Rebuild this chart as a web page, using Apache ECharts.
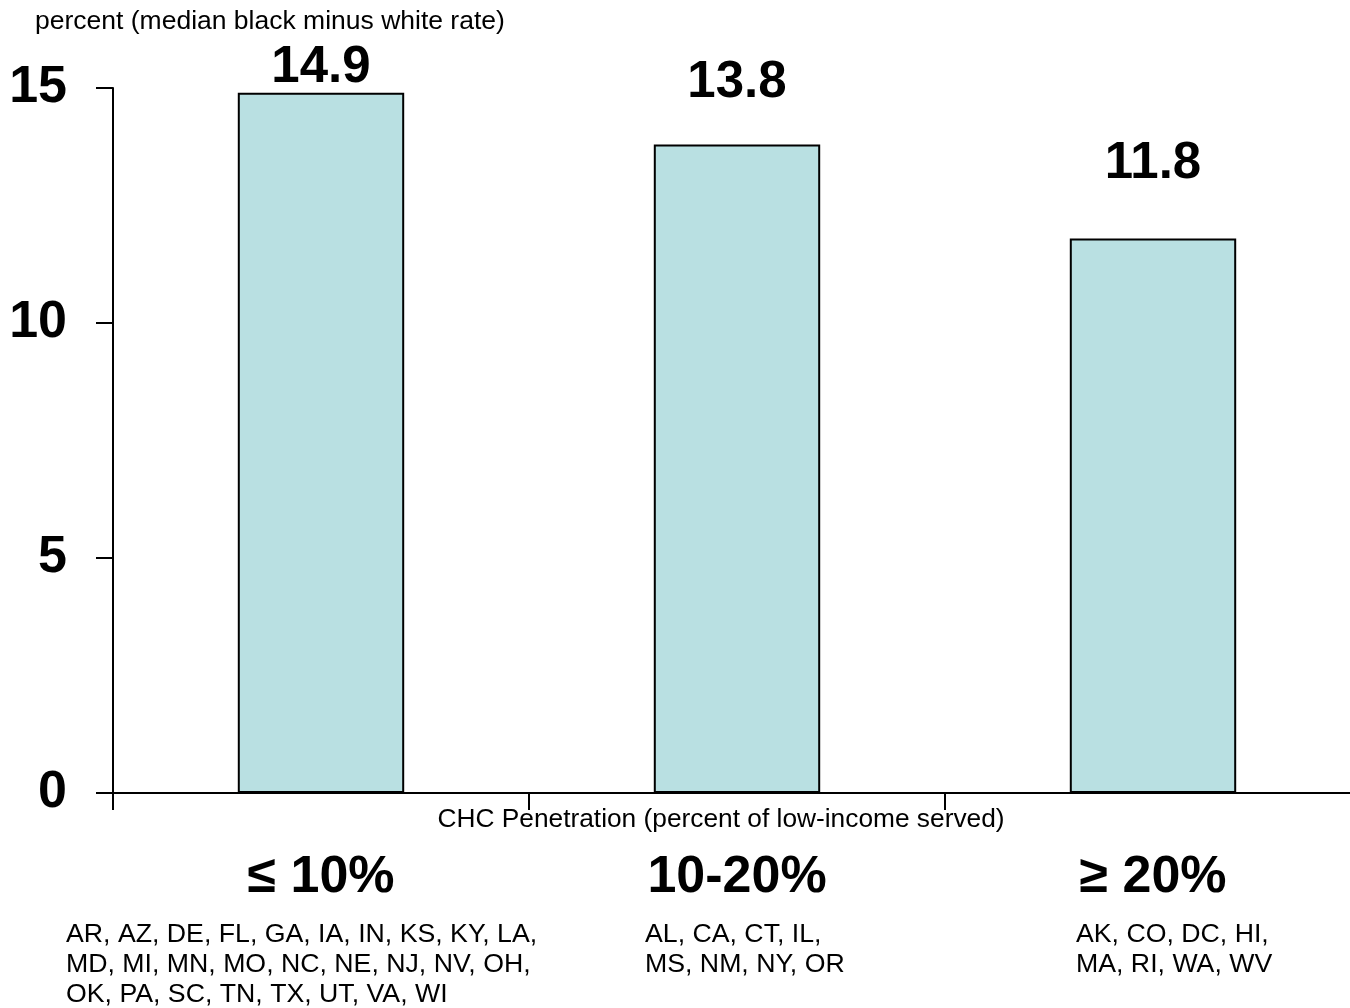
<!DOCTYPE html>
<html>
<head>
<meta charset="utf-8">
<script src="https://cdn.jsdelivr.net/npm/echarts@6/dist/echarts.min.js"></script>
<style>
  html, body { margin: 0; padding: 0; background: #fff; }
  #chart { width: 1350px; height: 1008px; }
</style>
</head>
<body>
<div id="chart"></div>
<script>
// CHC penetration groups and the median black-minus-white gap for each
const groups = ['≤ 10%', '10-20%', '≥ 20%'];
const gapValues = [14.9, 13.8, 11.8];
const groupStates = [
  ['AR, AZ, DE, FL, GA, IA, IN, KS, KY, LA,', 'MD, MI, MN, MO, NC, NE, NJ, NV, OH,', 'OK, PA, SC, TN, TX, UT, VA, WI'],
  ['AL, CA, CT, IL,', 'MS, NM, NY, OR'],
  ['AK, CO, DC, HI,', 'MA, RI, WA, WV']
];
const yTicks = { min: 0, max: 15, step: 5 };
const yTitle = 'percent (median black minus white rate)';
const xTitle = 'CHC Penetration (percent of low-income served)';

const FONT = '"Liberation Sans", Arial, Helvetica, sans-serif';

// how far each value label floats above its bar
const labelLift = [-1, 36, 49];
// width of the left-aligned state block under each group, centred on the group
const stateBlockWidth = [510, 184, 154];

const rich = {
  big: { fontFamily: FONT, fontSize: 52, fontWeight: 'bold', color: '#000', lineHeight: 84 }
};
stateBlockWidth.forEach((w, i) => {
  rich['s' + i] = { fontFamily: FONT, fontSize: 26.7, color: '#000', lineHeight: 30, width: w, align: 'left' };
});

const chart = echarts.init(document.getElementById('chart'), null, { renderer: 'canvas' });

chart.setOption({
  animation: false,
  backgroundColor: '#fff',
  title: {
    text: yTitle,
    left: 30,
    top: 3,
    textStyle: { fontFamily: FONT, fontSize: 26.5, fontWeight: 'normal', color: '#000' }
  },
  grid: { left: 113, right: -11, top: 88, bottom: 215, containLabel: false, outerBoundsMode: 'none' },
  xAxis: {
    type: 'category',
    data: groups,
    boundaryGap: true,
    name: xTitle,
    nameLocation: 'middle',
    nameGap: 14,
    nameMoveOverlap: false,
    nameTextStyle: {
      fontFamily: FONT, fontSize: 26.3, color: '#000',
      verticalAlign: 'top', padding: [0, 32, 0, 0]
    },
    axisLine: { lineStyle: { color: '#000', width: 2 } },
    axisTick: { show: true, length: 17, lineStyle: { color: '#000', width: 2 } },
    axisLabel: {
      interval: 0,
      margin: 43,
      formatter: (value, idx) => {
        const lines = ['{big|' + value + '}'];
        groupStates[idx].forEach(s => lines.push('{s' + idx + '|' + s + '}'));
        return lines.join('\n');
      },
      rich: rich
    },
    splitLine: { show: false }
  },
  yAxis: {
    type: 'value',
    min: yTicks.min,
    max: yTicks.max,
    interval: yTicks.step,
    axisLine: { show: true, lineStyle: { color: '#000', width: 2 } },
    axisTick: { show: true, length: 17, lineStyle: { color: '#000', width: 2 } },
    axisLabel: {
      margin: 46,
      fontFamily: FONT, fontSize: 52, fontWeight: 'bold', color: '#000'
    },
    splitLine: { show: false }
  },
  series: [{
    type: 'bar',
    barWidth: '40%',
    data: gapValues.map((v, i) => ({
      value: v,
      label: { distance: labelLift[i] }
    })),
    itemStyle: { color: '#B9E0E2', borderColor: '#000', borderWidth: 2 },
    label: {
      show: true,
      position: 'top',
      fontFamily: FONT, fontSize: 51, fontWeight: 'bold', color: '#000',
      formatter: p => p.value.toFixed(1)
    }
  }]
});
</script>
</body>
</html>
